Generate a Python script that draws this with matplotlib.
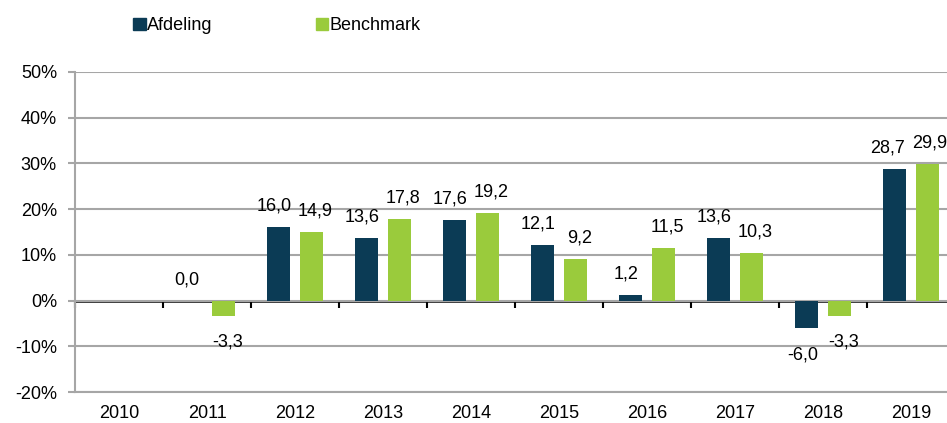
"""Jaarlijks rendement Afdeling vs Benchmark"""

import numpy as np
import matplotlib.pyplot as plt
from matplotlib.patches import Patch

years = ['2010', '2011', '2012', '2013', '2014', '2015', '2016', '2017', '2018', '2019']
afdeling = [np.nan, 0.0, 16.0, 13.6, 17.6, 12.1, 1.2, 13.6, -6.0, 28.7]
benchmark = [np.nan, -3.3, 14.9, 17.8, 19.2, 9.2, 11.5, 10.3, -3.3, 29.9]
yticks = [-20, -10, 0, 10, 20, 30, 40, 50]

navy = '#0b3b55'
green = '#9acb3c'
grid = '#a6a6a6'
fs = 13

plt.rcParams['font.family'] = ['Liberation Sans', 'DejaVu Sans']

fig = plt.figure(figsize=(9.47, 4.23), dpi=100)
ax = fig.add_axes([75/947, 31/423, 880/947, 320/423])

x = np.arange(len(years))
w = 0.26
off = 0.185
ax.bar(x - off, afdeling, w, color=navy, zorder=3)
ax.bar(x + off, benchmark, w, color=green, zorder=3)

# data labels, comma as decimal separator
for i in range(len(years)):
    last = i == len(years) - 1
    for val, xc, dx in ((afdeling[i], x[i] - off, -5 if last else -3),
                        (benchmark[i], x[i] + off, 2 if last else 3)):
        if np.isnan(val):
            continue
        txt = ('%.1f' % val).replace('.', ',')
        if val >= 0:
            ax.annotate(txt, (xc, val), xytext=(dx, 9), textcoords='offset points',
                        ha='center', va='bottom', fontsize=fs)
        else:
            ax.annotate(txt, (xc, val), xytext=(dx, -13), textcoords='offset points',
                        ha='center', va='top', fontsize=fs)

ax.set_xlim(-0.5, len(years) - 0.5)
ax.set_ylim(-20, 50)
ax.set_yticks(yticks)
ax.set_yticklabels(['%d%%' % t for t in yticks], fontsize=fs)
ax.set_xticks(x)
ax.set_xticklabels(years, fontsize=fs)
ax.tick_params(axis='x', length=0, pad=9)
ax.tick_params(axis='y', length=5, width=1.5, color=grid, pad=8)
ax.yaxis.grid(True, color=grid, linewidth=1.5, zorder=0)
for s in ('top', 'right'):
    ax.spines[s].set_visible(False)
ax.spines['left'].set_color(grid)
ax.spines['left'].set_linewidth(1.5)
ax.spines['bottom'].set_color(grid)
ax.spines['bottom'].set_linewidth(1.5)

# zero line with category tick marks
sec = ax.secondary_xaxis(20/70)
sec.set_xticks(np.arange(-0.5, len(years), 1.0))
sec.set_xticklabels([])
sec.tick_params(direction='out', length=5, width=1.5, color='black')
sec.spines['bottom'].set_color('black')
sec.spines['bottom'].set_linewidth(1.8)
sec.spines['bottom'].set_zorder(4)

handles = [Patch(color=navy, label='Afdeling'), Patch(color=green, label='Benchmark')]
fig.legend(handles=handles, loc='center left', bbox_to_anchor=(117/947, 1 - 26/423),
           ncol=2, frameon=False, fontsize=fs, handlelength=0.7, handleheight=0.7,
           handletextpad=0.08, columnspacing=5.7)

fig.savefig('out.png', dpi=100)
